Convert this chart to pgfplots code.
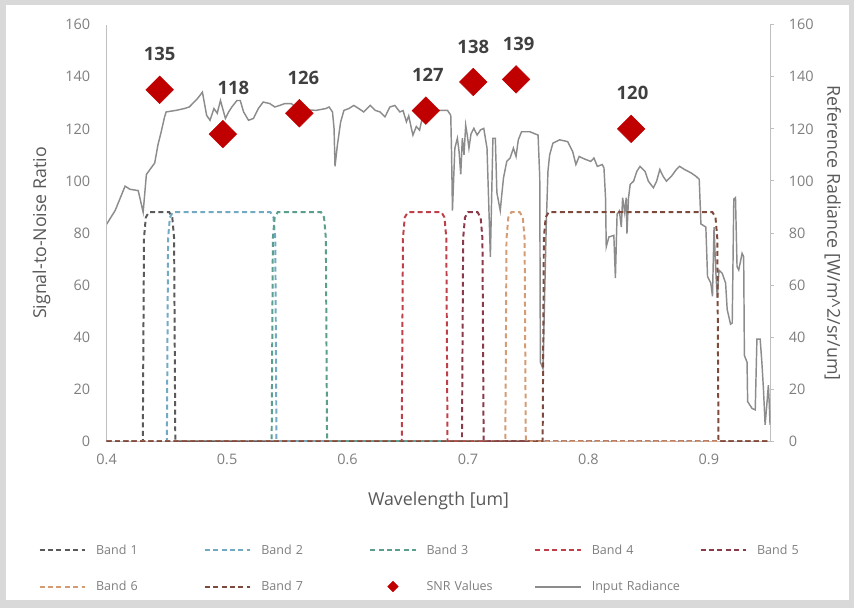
\documentclass[border=0pt]{standalone}
\usepackage{fontspec}
\setmainfont{Open Sans}
\usepackage{pgfplots}
\pgfplotsset{compat=1.18}
\definecolor{framec}{HTML}{D9D9D9}
\definecolor{tickc}{HTML}{7F7F7F}
\definecolor{labc}{HTML}{595959}
\definecolor{datc}{HTML}{404040}
\definecolor{axc}{HTML}{BFBFBF}
\definecolor{radc}{HTML}{8C8C8C}
\definecolor{snrc}{HTML}{C00000}
\definecolor{bOne}{HTML}{5A5A5A}
\definecolor{bTwo}{HTML}{72AAC4}
\definecolor{bThree}{HTML}{5A9E8C}
\definecolor{bFour}{HTML}{C0404A}
\definecolor{bFive}{HTML}{8B3A4A}
\definecolor{bSix}{HTML}{D39C74}
\definecolor{bSeven}{HTML}{7E4A3C}

\pgfplotstableread{
x y
0.4000 83.4
0.4071 88.7
0.4153 98.0
0.4194 96.8
0.4262 96.3
0.4303 88.0
0.4330 102.5
0.4399 106.9
0.4426 113.9
0.4453 118.9
0.4481 124.6
0.4494 126.5
0.4576 127.1
0.4645 127.8
0.4686 128.4
0.4754 131.6
0.4795 134.1
0.4830 125.2
0.4858 123.3
0.4891 127.8
0.4918 126.0
0.4945 130.9
0.4986 124.0
0.5013 126.5
0.5041 128.5
0.5082 130.9
0.5109 130.9
0.5137 126.5
0.5178 123.3
0.5219 124.0
0.5259 127.8
0.5300 130.3
0.5355 129.7
0.5396 128.4
0.5437 129.0
0.5478 129.7
0.5533 129.7
0.5598 127.5
0.5738 127.1
0.5820 127.8
0.5847 128.4
0.5875 126.5
0.5888 120.2
0.5896 105.6
0.5916 113.9
0.5943 122.7
0.5970 127.1
0.6011 127.8
0.6052 129.0
0.6093 127.8
0.6134 126.5
0.6189 129.0
0.6230 127.1
0.6270 126.5
0.6311 124.6
0.6352 128.4
0.6393 129.0
0.6434 126.5
0.6461 127.0
0.6489 122.7
0.6508 125.0
0.6530 120.2
0.6543 117.6
0.6571 120.9
0.6598 119.5
0.6625 125.2
0.6666 127.1
0.6762 127.1
0.6830 127.1
0.6857 125.2
0.6864 110.0
0.6871 88.6
0.6891 112.6
0.6912 116.4
0.6926 111.3
0.6940 102.5
0.6953 116.4
0.6967 110.0
0.6981 121.4
0.6994 117.6
0.7008 112.6
0.7025 118.0
0.7049 120.2
0.7076 117.6
0.7104 119.6
0.7131 120.2
0.7158 112.6
0.7186 70.9
0.7207 116.4
0.7227 116.4
0.7240 95.5
0.7268 88.6
0.7281 94.9
0.7295 101.2
0.7322 107.5
0.7350 108.8
0.7377 112.6
0.7399 109.4
0.7418 115.8
0.7445 118.9
0.7514 118.9
0.7582 117.6
0.7596 101.2
0.7601 30.4
0.7623 27.9
0.7650 83.5
0.7664 103.7
0.7678 110.0
0.7705 114.5
0.7760 115.8
0.7828 115.1
0.7869 111.3
0.7896 106.3
0.7923 109.4
0.7964 108.5
0.8019 107.5
0.8046 108.8
0.8074 105.6
0.8115 106.3
0.8129 105.0
0.8142 93.6
0.8148 74.7
0.8170 78.5
0.8211 79.1
0.8224 62.7
0.8238 87.3
0.8257 88.5
0.8273 82.3
0.8284 93.6
0.8301 88.0
0.8314 93.6
0.8320 79.8
0.8333 93.6
0.8347 98.7
0.8375 99.9
0.8402 103.7
0.8429 105.6
0.8470 103.7
0.8498 99.9
0.8539 97.4
0.8566 99.9
0.8593 104.4
0.8620 101.8
0.8648 99.9
0.8689 101.8
0.8730 104.4
0.8757 105.6
0.8798 104.4
0.8852 103.1
0.8893 101.8
0.8920 100.6
0.8934 83.5
0.8975 82.3
0.8989 63.3
0.9016 60.8
0.9030 55.7
0.9043 82.3
0.9057 65.8
0.9070 55.1
0.9084 65.8
0.9111 64.5
0.9139 60.8
0.9152 50.7
0.9180 45.0
0.9194 45.5
0.9207 93.0
0.9221 93.6
0.9234 67.1
0.9248 65.8
0.9276 72.2
0.9289 70.9
0.9295 33.0
0.9317 30.4
0.9322 15.3
0.9358 12.7
0.9385 12.1
0.9399 39.3
0.9426 39.3
0.9440 30.4
0.9453 20.3
0.9467 6.4
0.9481 14.0
0.9494 21.6
0.9502 14.0
0.9508 6.4
}\radtable

\pgfplotstableread{
x y lab dx dy
0.444 135 135 0 27
0.4965 118 118 8 35
0.560 126 126 3 27
0.665 127 127 1.5 27
0.7044 138 138 0 27
0.7399 139 139 2 27
0.8355 120 120 1 27
}\snrtable

\begin{document}
\begin{tikzpicture}
\fill[framec] (-81pt,-126.75pt) rectangle (567.75pt,335.25pt);
\fill[white] (-76.5pt,-120.75pt) rectangle (564pt,331.5pt);

% right axis: input radiance
\begin{axis}[
  scale only axis, width=504pt, height=316.5pt,
  xmin=0.4, xmax=0.951, ymin=0, ymax=160,
  axis x line=none, axis y line*=right,
  ytick={0,20,...,160},
  y axis line style={draw=axc, line width=0.75pt},
  ytick style={draw=axc, line width=0.75pt},
  tick align=outside, major tick length=2.5pt,
  /pgf/number format/assume math mode=true,
  yticklabel style={font=\fontsize{11}{13}\selectfont, text=tickc, anchor=west, xshift=8pt},
  ylabel={Reference Radiance [W/m\textasciicircum 2/sr/um]},
  ylabel style={at={(axis description cs:1.094,0.5)}, anchor=center, rotate=180, font=\fontsize{13.5}{15}\selectfont, text=labc},
]
\addplot[radc, line width=1.1pt] table[x=x,y=y]{\radtable};
\end{axis}

% left axis: SNR and bands
\begin{axis}[
  scale only axis, width=504pt, height=316.5pt,
  xmin=0.4, xmax=0.951, ymin=0, ymax=160,
  axis y line*=left, axis x line*=bottom,
  axis line style={draw=axc, line width=0.75pt},
  xtick={0.4,0.5,0.6,0.7,0.8,0.9},
  ytick={0,20,...,160},
  major tick length=0pt,
  /pgf/number format/assume math mode=true,
  xticklabel style={font=\fontsize{11}{13}\selectfont, text=tickc, /pgf/number format/fixed, /pgf/number format/precision=1, yshift=-6pt},
  yticklabel style={font=\fontsize{11}{13}\selectfont, text=tickc, anchor=east, xshift=-9pt},
  xlabel={Wavelength [um]},
  xlabel style={at={(axis description cs:0.5,-0.142)}, anchor=center, font=\fontsize{13.5}{15}\selectfont, text=labc},
  ylabel={Signal-to-Noise Ratio},
  ylabel style={at={(axis description cs:-0.0982,0.5)}, anchor=center, font=\fontsize{13.5}{15}\selectfont, text=labc},
  legend columns=5,
  legend cell align=left,
  legend image code/.code={\draw[#1] (0pt,0pt) -- (34.5pt,0pt);},
  legend style={at={(axis description cs:-0.1027,-0.247)}, anchor=north west, draw=none, fill=none, inner sep=0pt,
    font=\fontsize{9.5}{11}\selectfont, text=tickc, row sep=18.75pt,
    /tikz/every odd column/.append style={column sep=7.5pt},
    nodes={inner sep=0pt, text width=82pt, align=left}},
  band/.style={line width=1.5pt, dash pattern=on 3.75pt off 2.6pt},
]
\addplot[band, bOne] coordinates {(0.4,0) (0.430,0) (0.431,78) (0.4325,86) (0.435,88) (0.452,88) (0.4545,86) (0.456,78) (0.457,0) (0.951,0)};
\addlegendentry{Band 1}
\addplot[band, bTwo] coordinates {(0.4,0) (0.450,0) (0.451,78) (0.4525,86) (0.455,88) (0.536,88) (0.5385,86) (0.540,78) (0.541,0) (0.951,0)};
\addlegendentry{Band 2}
\addplot[band, bThree] coordinates {(0.4,0) (0.537,0) (0.538,78) (0.5395,86) (0.542,88) (0.578,88) (0.5805,86) (0.582,78) (0.583,0) (0.951,0)};
\addlegendentry{Band 3}
\addplot[band, bFour] coordinates {(0.4,0) (0.645,0) (0.646,78) (0.6475,86) (0.650,88) (0.678,88) (0.6805,86) (0.682,78) (0.683,0) (0.951,0)};
\addlegendentry{Band 4}
\addplot[band, bFive] coordinates {(0.4,0) (0.695,0) (0.696,78) (0.6975,86) (0.700,88) (0.708,88) (0.7105,86) (0.712,78) (0.713,0) (0.951,0)};
\addlegendentry{Band 5}
\addplot[band, bSix] coordinates {(0.4,0) (0.731,0) (0.732,78) (0.7335,86) (0.736,88) (0.743,88) (0.7455,86) (0.747,78) (0.748,0) (0.951,0)};
\addlegendentry{Band 6}
\addplot[band, bSeven] coordinates {(0.4,0) (0.762,0) (0.763,78) (0.7645,86) (0.767,88) (0.903,88) (0.9055,86) (0.907,78) (0.908,0) (0.951,0)};
\addlegendentry{Band 7}
\addplot[only marks, mark=square*, mark size=7.4pt,
  mark options={rotate=45, fill=snrc, draw=snrc},
  legend image code/.code={\path[draw=none] (0pt,0pt) -- (34.5pt,0pt);\path[draw=none] plot[mark=square*, mark size=2.8pt, mark options={rotate=45, fill=snrc, draw=snrc}] coordinates {(17.25pt,0pt)};},
  point meta=explicit symbolic,
  nodes near coords,
  visualization depends on={\thisrow{dx} \as \dx},
  visualization depends on={\thisrow{dy} \as \dy},
  every node near coord/.append style={anchor=center, xshift=\dx, yshift=\dy, font=\fontsize{14}{16}\selectfont\bfseries, text=datc},
] table[x=x,y=y,meta=lab]{\snrtable};
\addlegendentry{SNR Values}
\addlegendimage{radc, line width=1.5pt}
\addlegendentry{Input Radiance}
\end{axis}
\end{tikzpicture}
\end{document}
